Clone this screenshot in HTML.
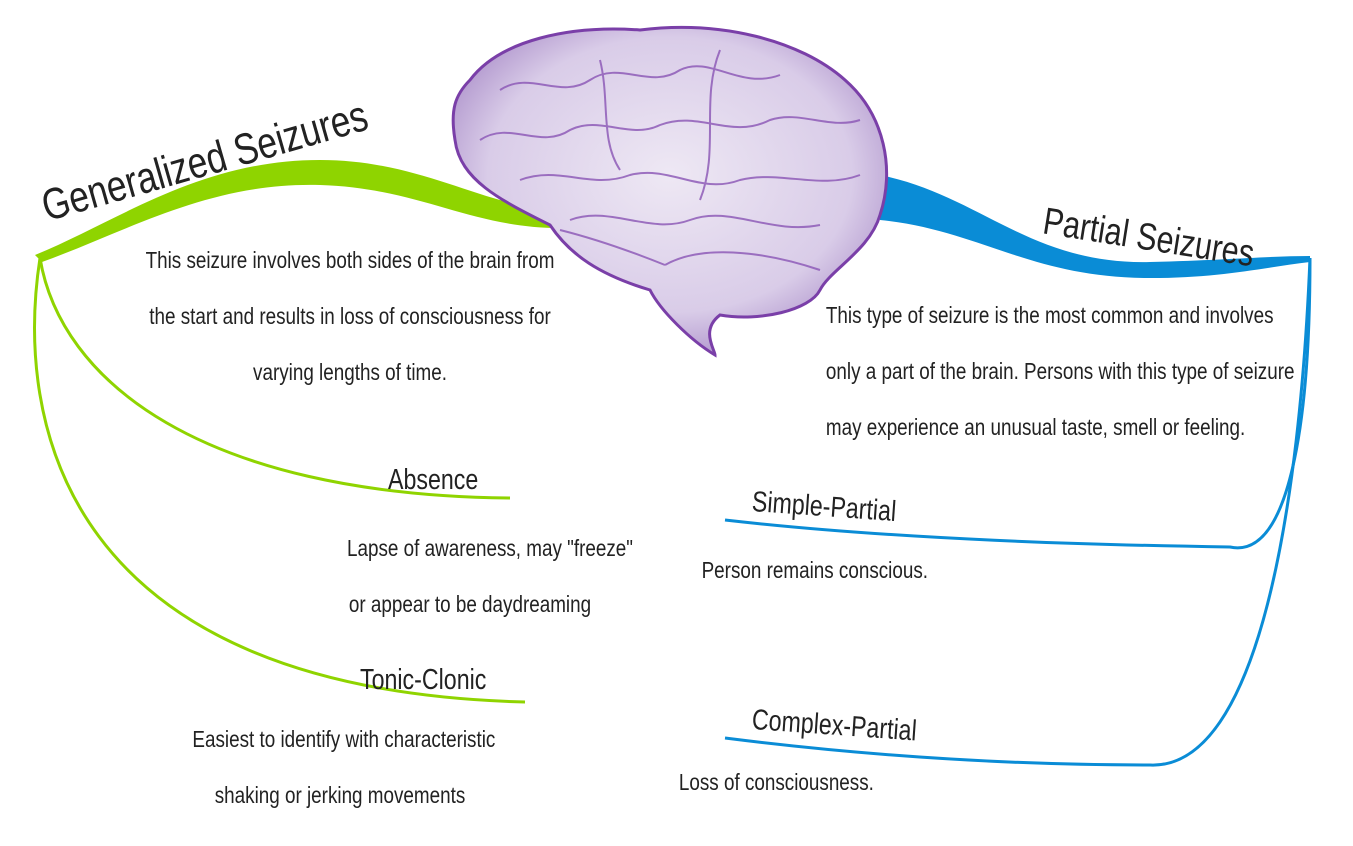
<!DOCTYPE html>
<html><head><meta charset="utf-8"><style>
body{margin:0;width:1353px;height:846px;background:#fff;overflow:hidden;position:relative;font-family:"Liberation Sans Narrow","Liberation Sans",sans-serif;color:#222}
.t{position:absolute;font-size:23px;text-align:center;white-space:nowrap;transform:scaleX(0.82);transform-origin:center;line-height:56px}
.h{position:absolute;font-size:29px;white-space:nowrap;transform:scaleX(0.8);transform-origin:left}
</style></head><body>
<svg width="1353" height="846" style="position:absolute;left:0;top:0">
<defs><radialGradient id="b" cx="50%" cy="45%" r="60%"><stop offset="0" stop-color="#eee8f4"/><stop offset="0.7" stop-color="#d9cce8"/><stop offset="1" stop-color="#a98cc8"/></radialGradient></defs>
<path d="M35,255 C120,220 200,160 320,160 C420,160 480,205 560,212 L560,228 C470,228 420,188 320,185 C210,182 130,230 42,262 Z" fill="#8fd400"/>
<path d="M40,258 C60,380 200,495 510,498" fill="none" stroke="#8fd400" stroke-width="3"/>
<path d="M40,258 C15,420 60,690 525,702" fill="none" stroke="#8fd400" stroke-width="3"/>
<path d="M880,175 C980,195 1030,265 1150,262 C1230,260 1270,256 1310,256 L1310,262 C1260,268 1220,278 1150,278 C1030,278 980,230 880,220 Z" fill="#0a8cd6"/>
<path d="M1310,258 C1310,420 1290,560 1230,547 C1100,545 900,540 725,520" fill="none" stroke="#0a8cd6" stroke-width="3"/>
<path d="M1310,258 C1300,500 1260,770 1150,765 C1000,765 860,755 725,738" fill="none" stroke="#0a8cd6" stroke-width="3"/>
<path d="M470,80 C500,40 570,25 640,30 C720,20 800,40 845,80 C885,115 895,170 880,215 C870,250 830,270 820,290 C810,310 760,322 720,315 C700,330 715,350 715,355 C690,340 660,310 650,290 C600,275 570,255 550,225 C500,200 460,180 455,140 C450,110 455,95 470,80 Z" fill="url(#b)" stroke="#7a3fa8" stroke-width="3"/>
<g fill="none" stroke="#8a55b5" stroke-width="2" opacity="0.8">
<path d="M500,90 C530,70 560,100 590,80 C620,60 650,90 680,70 C710,55 740,90 780,75"/>
<path d="M480,140 C510,120 540,150 570,130 C600,115 630,140 660,125 C700,110 730,140 770,120 C800,110 830,130 860,120"/>
<path d="M520,180 C560,165 590,190 630,175 C670,165 700,195 740,180 C780,170 820,190 860,175"/>
<path d="M570,220 C610,205 650,235 690,220 C730,205 770,235 820,225"/>
<path d="M665,265 C700,245 760,250 820,270"/>
<path d="M600,60 C610,100 600,140 620,170"/>
<path d="M720,50 C700,100 720,150 700,200"/>
<path d="M560,230 C600,240 640,255 665,265"/>
</g>
</svg>
<div class="h" style="left:50px;top:182px;font-size:44px;transform:rotate(-16deg) scaleX(0.8);transform-origin:left bottom">Generalized Seizures</div>
<div class="h" style="left:1040px;top:200px;font-size:38px;transform:rotate(9deg) scaleX(0.8);transform-origin:left bottom">Partial Seizures</div>
<div class="t" style="left:100px;top:232px;width:500px">This seizure involves both sides of the brain from<br>the start and results in loss of consciousness for<br>varying lengths of time.</div>
<div class="t" style="left:780px;top:287px;width:510px">This type of seizure is the most common and involves<br>only a part of the brain. Persons with this type of seizure<br>may experience an unusual taste, smell or feeling.</div>
<div class="h" style="left:388px;top:464px">Absence</div>
<div class="t" style="left:320px;top:520px;width:300px">Lapse of awareness, may "freeze"<br>or appear to be daydreaming</div>
<div class="h" style="left:360px;top:664px">Tonic-Clonic</div>
<div class="t" style="left:160px;top:711px;width:360px">Easiest to identify with characteristic<br>shaking or jerking movements</div>
<div class="h" style="left:752px;top:486px;transform:rotate(4deg) scaleX(0.8)">Simple-Partial</div>
<div class="t" style="left:680px;top:542px;width:240px">Person remains conscious.</div>
<div class="h" style="left:752px;top:704px;transform:rotate(4deg) scaleX(0.8)">Complex-Partial</div>
<div class="t" style="left:660px;top:754px;width:210px">Loss of consciousness.</div>
</body></html>
